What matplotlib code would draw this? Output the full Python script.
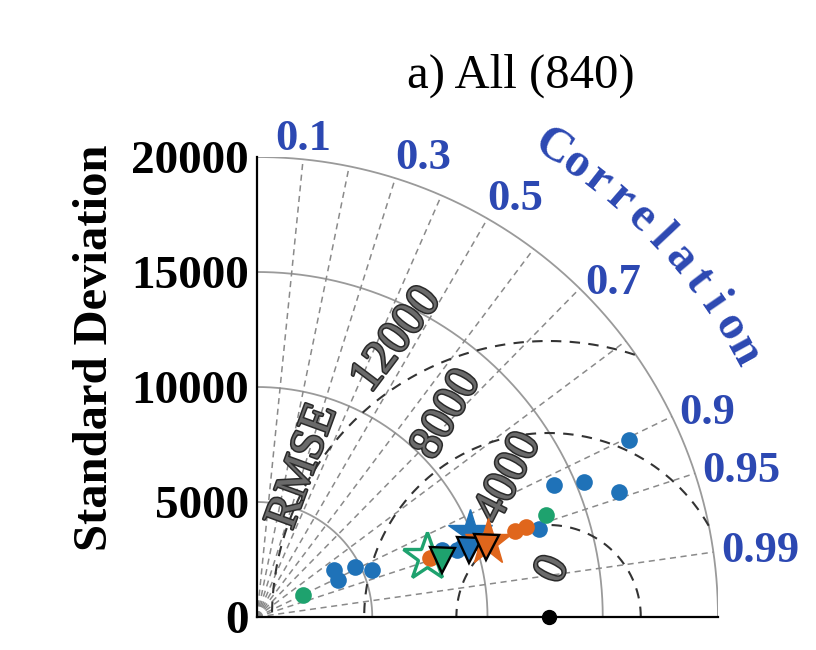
import numpy as np
import matplotlib
matplotlib.use("Agg")
import matplotlib.pyplot as plt
import matplotlib.patheffects as pe

plt.rcParams['font.family'] = ['Liberation Serif', 'DejaVu Serif']

# ---- data (std dev, correlation)
REF_STD = 12650
blue_std = [17886, 14104, 15360, 16619, 12825, 3897, 3885, 4790, 5388, 8541, 9157, 9464]
blue_corr = [0.903, 0.914, 0.924, 0.945, 0.954, 0.852, 0.910, 0.890, 0.925, 0.940, 0.948, 0.946]
orange_std = [11815, 12296, 7943, 10174]
orange_corr = [0.949, 0.948, 0.947, 0.949]
green_std = [13284, 2230]
green_corr = [0.943, 0.903]
# stars / triangles: green, blue, orange
star_std = [7829, 9977, 10536]
star_corr = [0.942, 0.928, 0.951]
tri_std = [8405, 9639, 10374]
tri_corr = [0.955, 0.953, 0.956]

STD_RINGS = [5000, 10000, 15000, 20000]
CORR_LINES = [0.1, 0.2, 0.3, 0.4, 0.5, 0.6, 0.7, 0.8, 0.9, 0.95, 0.99]
CORR_LABELS = [0.1, 0.3, 0.5, 0.7, 0.9, 0.95, 0.99]
RMS_RINGS = [4000, 8000, 12000]
YTICKS = [0, 5000, 10000, 15000, 20000]
SMAX = 20000

C_BLUE, C_ORANGE, C_GREEN = "#1f72b8", "#e0661c", "#1ea26e"
C_TXT = "#2c48b2"


def xy(s, c):
    s = np.asarray(s, float); c = np.asarray(c, float)
    return s * c, s * np.sqrt(1 - c ** 2)


fig = plt.figure(figsize=(8.16, 6.5), dpi=100)
ax = fig.add_axes([257 / 816, 33 / 650, 461 / 816, 460 / 650])
ax.set_xlim(0, SMAX); ax.set_ylim(0, SMAX)
for sp in ("top", "right"):
    ax.spines[sp].set_visible(False)
for sp in ("left", "bottom"):
    ax.spines[sp].set_linewidth(1.6); ax.spines[sp].set_zorder(6)
ax.set_xticks([])
ax.set_yticks(YTICKS)
ax.set_yticklabels([str(v) for v in YTICKS], fontsize=34, fontweight="bold")
ax.tick_params(axis="y", length=0, pad=6)

th = np.linspace(0, np.pi / 2, 300)
# std rings
for r in STD_RINGS:
    ax.plot(r * np.cos(th), r * np.sin(th), color="#9a9a9a", lw=1.3, zorder=1)
# correlation rays
for c in CORR_LINES:
    a = np.arccos(c)
    ax.plot([0, SMAX * np.cos(a)], [0, SMAX * np.sin(a)], color="#8a8a8a",
            lw=1.1, ls=(0, (4, 3)), zorder=1)
# rmse rings about the reference
t2 = np.linspace(0, np.pi, 600)
for r in RMS_RINGS:
    x = REF_STD + r * np.cos(t2); y = r * np.sin(t2)
    m = (x ** 2 + y ** 2 > SMAX ** 2) | (x < 0)
    x[m] = np.nan; y[m] = np.nan
    ax.plot(x, y, color="#333333", lw=1.5, ls=(0, (5, 4)), zorder=1)

# correlation labels
for c in CORR_LABELS:
    a = np.arccos(c)
    if c < 0.2:
        r, ha, va = SMAX, "center", "bottom"
    elif c < 0.6:
        r, ha, va = SMAX, "left", "bottom"
    else:
        r, ha, va = SMAX * 1.0175, "left", "center"
    ax.text(r * np.cos(a), r * np.sin(a), f"{c:g}", ha=ha, va=va,
            fontsize=32, fontweight="bold", color=C_TXT, clip_on=False)
# curved axis title
word = "Correlation"
angs = np.linspace(57.8, 28.7, len(word))
for ch, ang in zip(word, angs):
    a = np.radians(ang)
    ax.text(24090 * np.cos(a), 24090 * np.sin(a), ch, rotation=ang - 90,
            ha="center", va="center", rotation_mode="anchor",
            fontsize=35, fontweight="bold", color=C_TXT, clip_on=False)

# rmse labels (x, y, rotation)
rms_txt = [("0", 12870, 2043, 65), ("4000", 10928, 6029, 63),
           ("8000", 8246, 8783, 60), ("12000", 6072, 12043, 53),
           ("RMSE", 2014, 6536, 70)]
outline = [pe.withStroke(linewidth=2.2, foreground="#2a2a2a")]
for s, x, y, rot in rms_txt:
    ax.text(x, y, s, rotation=rot, ha="center", va="center",
            rotation_mode="anchor", fontsize=34, color="#6a6a6a", zorder=2,
            path_effects=outline)

# points
for ss, cc, col in [(blue_std, blue_corr, C_BLUE), (orange_std, orange_corr, C_ORANGE),
                    (green_std, green_corr, C_GREEN)]:
    x, y = xy(ss, cc)
    ax.plot(x, y, "o", ms=12, color=col, mec="none", zorder=3)

sx, sy = xy(star_std, star_corr)
tx, ty = xy(tri_std, tri_corr)
ax.plot(sx[0], sy[0], "*", ms=36, mfc="none", mec=C_GREEN, mew=2.4, zorder=4)
ax.plot(sx[1], sy[1], "*", ms=33, color=C_BLUE, mec=C_BLUE, zorder=4)
ax.plot(sx[2], sy[2], "*", ms=35, color=C_ORANGE, mec=C_ORANGE, zorder=4)
for x, y, col in zip(tx, ty, [C_GREEN, C_BLUE, C_ORANGE]):
    ax.plot(x, y, "v", ms=18, color=col, mec="black", mew=1.7, zorder=5)

ax.plot(REF_STD, 0, "o", ms=10, color="black", clip_on=False, zorder=7)

fig.text(95 / 816, 1 - 348 / 650, "Standard Deviation", rotation=90,
         ha="center", va="center", fontsize=35, fontweight="bold")
fig.text(521 / 816, 1 - 76 / 650, "a) All (840)", ha="center", va="center",
         fontsize=35)

fig.savefig("out.png", dpi=100)
